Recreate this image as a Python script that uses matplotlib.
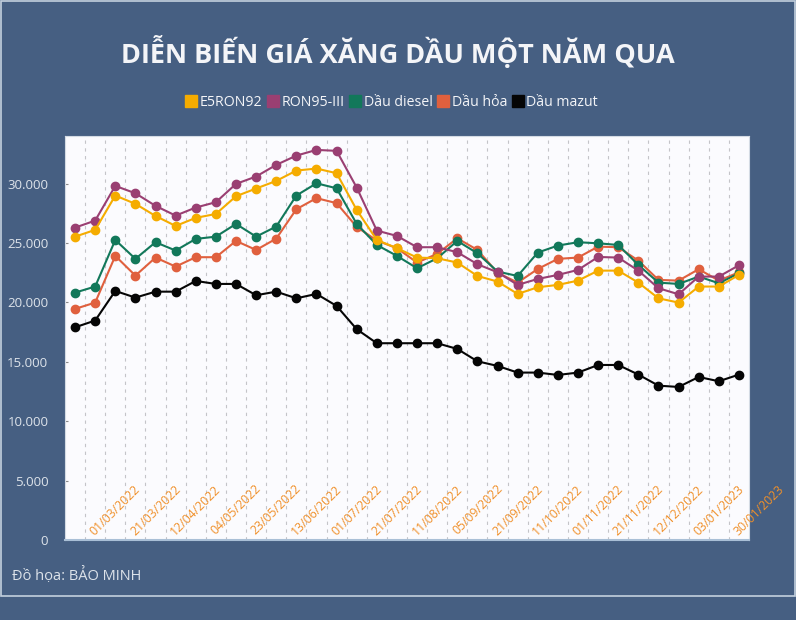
import numpy as np
import matplotlib
matplotlib.use("Agg")
import matplotlib.pyplot as plt
from matplotlib.lines import Line2D
from matplotlib.patches import Rectangle
from matplotlib.ticker import FuncFormatter
import matplotlib.transforms as mtransforms

# Gia ban le (dong/lit), 34 ky dieu hanh
e5ron92 = [25530, 26100, 28990, 28290, 27270, 26430, 27110, 27440, 28930, 29580,
           30220, 31090, 31260, 30870, 27780, 25250, 24560, 23770, 23710, 23350,
           22220, 21750, 20710, 21270, 21470, 21830, 22670, 22670, 21660, 20340,
           19980, 21330, 21330, 22310]
ron95 = [26290, 26880, 29800, 29180, 28120, 27300, 27980, 28430, 29970, 30590,
         31570, 32350, 32830, 32750, 29660, 26040, 25590, 24640, 24640, 24220,
         23210, 22530, 21470, 21970, 22310, 22730, 23820, 23770, 22670, 21190,
         20680, 22170, 22170, 23120]
dau_diesel = [20820, 21330, 25250, 23660, 25060, 24360, 25340, 25530, 26600, 25530,
              26380, 28990, 30020, 29600, 26600, 24830, 23910, 22870, 23710, 25170,
              24130, 22590, 22220, 24190, 24780, 25060, 24970, 24830, 23150, 21660,
              21550, 22170, 21610, 22450]
dau_hoa = [19450, 19980, 23910, 22250, 23770, 23010, 23800, 23800, 25170, 24410,
           25360, 27840, 28770, 28350, 26350, 25200, 24560, 23350, 24080, 25390,
           24410, 22500, 21660, 22810, 23660, 23770, 24690, 24640, 23510, 21890,
           21830, 22790, 21830, 22530]
dau_mazut = [17900, 18470, 20960, 20400, 20900, 20900, 21800, 21550, 21550, 20600,
             20900, 20340, 20710, 19700, 17740, 16560, 16560, 16560, 16560, 16080,
             15040, 14650, 14090, 14090, 13890, 14090, 14730, 14730, 13920, 12990,
             12880, 13720, 13360, 13920]

date_labels = ["01/03/2022", "21/03/2022", "12/04/2022", "04/05/2022", "23/05/2022",
               "13/06/2022", "01/07/2022", "21/07/2022", "11/08/2022", "05/09/2022",
               "21/09/2022", "11/10/2022", "01/11/2022", "21/11/2022", "12/12/2022",
               "03/01/2023", "30/01/2023"]

series_names = ["E5RON92", "RON95-III", "Dầu diesel", "Dầu hỏa", "Dầu mazut"]
series_values = [e5ron92, ron95, dau_diesel, dau_hoa, dau_mazut]
colors = ["#f5ac00", "#9a3f72", "#12785a", "#e0603e", "#050505"]

BG = "#465f82"
FONT = "Open Sans"

fig = plt.figure(figsize=(7.96, 6.2), dpi=100, facecolor=BG)

# vien sang quanh khung
fig.patches.append(Rectangle((1 / 796, 24 / 620), 794 / 796, 595 / 620,
                             transform=fig.transFigure, fill=False,
                             edgecolor="#c3d0de", linewidth=1.2))

ax = fig.add_axes([65 / 796, 80 / 620, 684 / 796, 404 / 620])
ax.set_facecolor("#fbfbfe")

x = np.arange(len(e5ron92))

# luoi doc net dut giua cac diem
for gx in x[:-1] + 0.5:
    ax.axvline(gx, color="#c4c4c8", linewidth=0.8, linestyle=(0, (3, 4)), zorder=0)

for name, vals, col in zip(series_names[::-1], series_values[::-1], colors[::-1]):
    ax.plot(x, vals, color=col, linewidth=1.5, marker="o", markersize=6.0,
            label=name, zorder=3)

ax.set_xlim(-0.5, len(x) - 0.5)
ax.set_ylim(0, 34000)
ax.set_yticks(np.arange(0, 30001, 5000))
ax.yaxis.set_major_formatter(FuncFormatter(lambda v, p: f"{int(v):,}".replace(",", ".")))
ax.tick_params(axis="y", direction="in", length=2, color="#888888",
               labelcolor="#dde3ea", labelsize=9.5, pad=12)
for lbl in ax.get_yticklabels():
    lbl.set_fontfamily(FONT)
ax.set_xticks([])

for side in ["top", "left", "right"]:
    ax.spines[side].set_color("#d4dbe4")
    ax.spines[side].set_linewidth(0.8)
ax.spines["bottom"].set_color("#a9bfd6")
ax.spines["bottom"].set_linewidth(1.5)

# nhan ngay nam trong vung ve, xoay 45 do
trans = mtransforms.blended_transform_factory(ax.transData, ax.transAxes)
for i, lab in enumerate(date_labels):
    ax.text(2 + 2 * i, 30 / 404, lab, transform=trans, rotation=45,
            ha="center", va="center", color="#f0902a", fontsize=8.8,
            fontfamily=FONT, clip_on=False, zorder=4)

fig.text(0.5, 1 - 53 / 620, "DIỄN BIẾN GIÁ XĂNG DẦU MỘT NĂM QUA", ha="center",
         va="center", color="#f4f5f8", fontsize=19.5, fontweight="bold",
         fontfamily=FONT)

handles = [Line2D([], [], linestyle="none", marker="s", markersize=9,
                  markerfacecolor=c, markeredgecolor=c) for c in colors]
leg = fig.legend(handles, series_names, loc="center", ncol=5,
                 bbox_to_anchor=(392 / 796, 1 - 102 / 620), frameon=False,
                 handlelength=0.7, handletextpad=0.25, columnspacing=0.4,
                 prop={"family": FONT, "size": 10.2})
for t in leg.get_texts():
    t.set_color("#f4f5f8")

fig.text(12 / 796, 1 - 576 / 620, "Đồ họa: BẢO MINH", ha="left", va="center",
         color="#dde3ea", fontsize=10.5, fontfamily=FONT)

fig.savefig("out.png", dpi=100, facecolor=BG)
